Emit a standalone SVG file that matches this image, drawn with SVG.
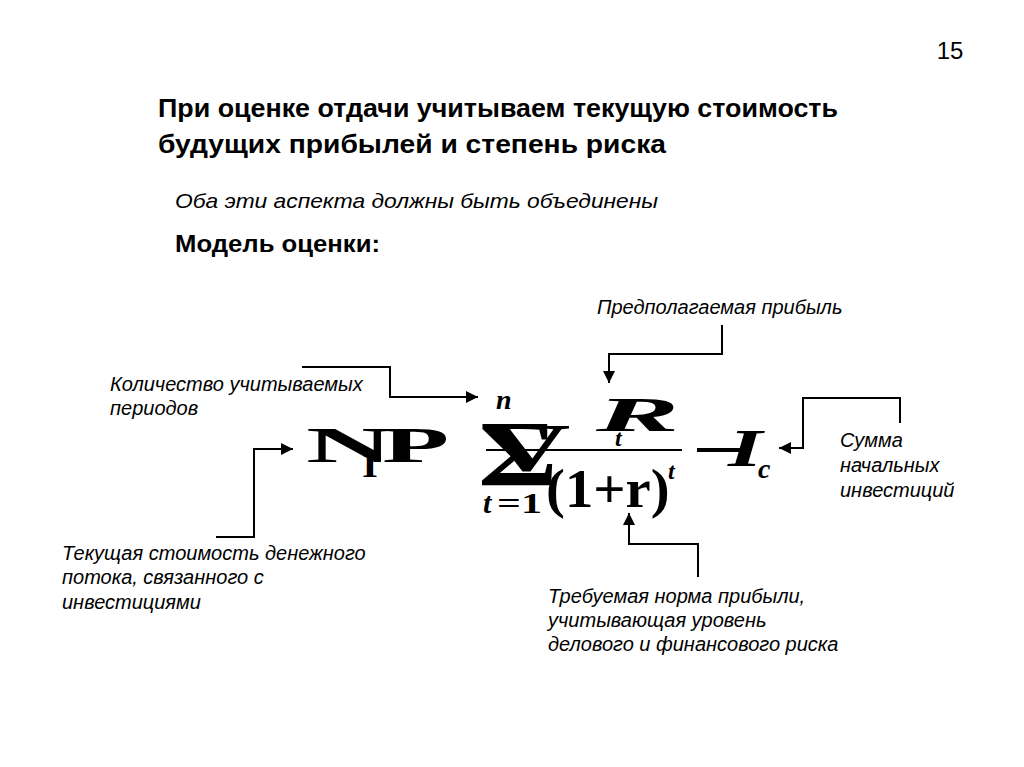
<svg xmlns="http://www.w3.org/2000/svg" width="1024" height="767" viewBox="0 0 1024 767">
<style>
.t{font-family:"Liberation Sans",Arial,sans-serif;fill:#000}
.h{font-size:26px;font-weight:bold}
.lbl{font-size:20px;font-style:italic}
.f{font-family:"Liberation Serif","Times New Roman",serif;fill:#000;font-weight:bold}
.fi{font-style:italic}
.c{fill:none;stroke:#000;stroke-width:2}
</style>
<defs>
<marker id="ah" viewBox="0 0 10 10" refX="10" refY="5" markerWidth="6" markerHeight="6" markerUnits="strokeWidth" orient="auto">
<path d="M0,0 L10,5 L0,10 z" fill="#000"/>
</marker>
</defs>
<rect width="1024" height="767" fill="#fff"/>
<g id="page-number"><text class="t" x="950" y="59" font-size="24" text-anchor="middle">15</text></g>
<g id="title">
<text class="t h" x="158" y="117" textLength="680" lengthAdjust="spacingAndGlyphs">При оценке отдачи учитываем текущую стоимость</text>
<text class="t h" x="158" y="153" textLength="508" lengthAdjust="spacingAndGlyphs">будущих прибылей и степень риска</text>
</g>
<g id="subtitle"><text class="t" x="175" y="208" font-size="21" font-style="italic" textLength="483" lengthAdjust="spacingAndGlyphs">Оба эти аспекта должны быть объединены</text></g>
<g id="model"><text class="t" x="175" y="252" font-size="24" font-weight="bold" textLength="205" lengthAdjust="spacingAndGlyphs">Модель оценки:</text></g>

<g id="formula">
<text class="f" transform="translate(306,462) scale(2.4,1)" font-size="50">N</text>
<text class="f" transform="translate(362,477) scale(1.2,1)" font-size="34">I</text>
<text class="f" transform="translate(382,462) scale(2.2,1)" font-size="50">P</text>
<text class="f" transform="translate(478,485) scale(1.3,1)" font-size="94" font-weight="normal">Σ</text>
<text class="f" transform="translate(482,470) scale(1.8,1)" font-size="68">V</text>
<text class="f fi" x="496" y="409" font-size="28">n</text>
<text class="f fi" transform="translate(596,431) scale(2.6,1)" font-size="48">R</text>
<text class="f fi" x="615" y="446" font-size="24">t</text>
<line x1="486" y1="450" x2="682" y2="450" stroke="#000" stroke-width="2"/>
<rect x="697" y="448" width="50" height="4" fill="#000"/>
<text class="f fi" transform="translate(728,466) scale(1.7,1)" font-size="52">I</text>
<text class="f fi" x="758" y="478" font-size="28">c</text>
<text class="f fi" x="483" y="513" font-size="30">t</text>
<text class="f" transform="translate(497,513) scale(1.4,1)" font-size="30">=1</text>
<text class="f" transform="translate(546,507) scale(1.05,1)" font-size="54">(1+r)</text>
<text class="f fi" x="668" y="479" font-size="24">t</text>
</g>

<g id="labels">
<g id="n-profit"><text class="t lbl" x="597" y="314">Предполагаемая прибыль</text></g>
<g id="n-periods"><text class="t lbl" x="110" y="391">Количество учитываемых</text><text class="t lbl" x="110" y="415">периодов</text></g>
<g id="n-invest"><text class="t lbl" x="840" y="447">Сумма</text><text class="t lbl" x="840" y="472">начальных</text><text class="t lbl" x="840" y="497">инвестиций</text></g>
<g id="n-pv"><text class="t lbl" x="62" y="560">Текущая стоимость денежного</text><text class="t lbl" x="62" y="584">потока, связанного с</text><text class="t lbl" x="62" y="609">инвестициями</text></g>
<g id="n-rate"><text class="t lbl" x="548" y="603">Требуемая норма прибыли,</text><text class="t lbl" x="548" y="627">учитывающая уровень</text><text class="t lbl" x="548" y="651">делового и финансового риска</text></g>
</g>

<g id="connectors">
<polyline class="c" points="302,367 390,367 390,397 478,397" marker-end="url(#ah)"/>
<polyline class="c" points="722,325 722,354 609,354 609,383" marker-end="url(#ah)"/>
<polyline class="c" points="900,423 900,398 803,398 803,448 779,448" marker-end="url(#ah)"/>
<polyline class="c" points="216,537 254,537 254,449 293,449" marker-end="url(#ah)"/>
<polyline class="c" points="698,577 698,544 629,544 629,513" marker-end="url(#ah)"/>
</g>
</svg>
